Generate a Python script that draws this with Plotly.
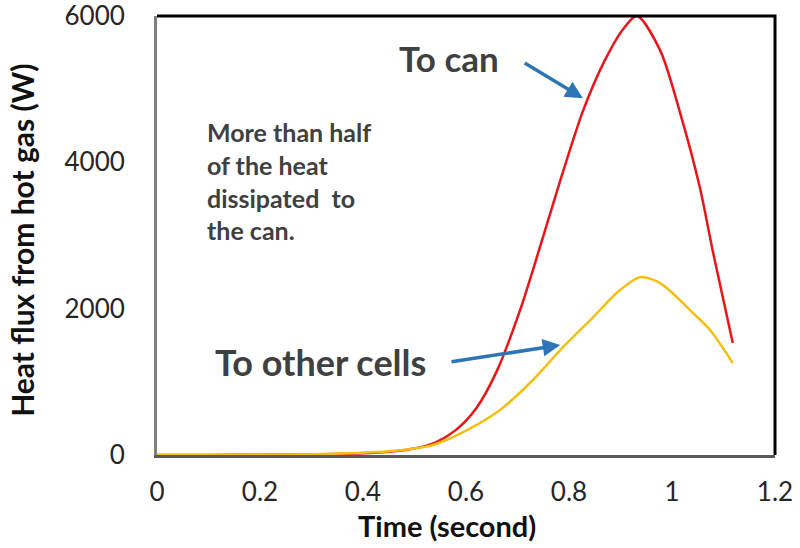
import plotly.graph_objects as go

# Heat flux into the can (W) versus time (s)
t_can = [0, 0.1, 0.2, 0.3, 0.4, 0.45, 0.5, 0.54, 0.58, 0.62, 0.66, 0.705,
         0.744, 0.783, 0.827, 0.87, 0.905, 0.932, 0.977, 1.016, 1.054, 1.08, 1.118]
q_can = [0, 0, 5, 10, 25, 45, 90, 170, 340, 640, 1150, 1980,
         2850, 3750, 4700, 5400, 5820, 6000, 5530, 4670, 3660, 2760, 1530]

# Heat flux into the other cells (W) versus time (s)
t_cells = [0, 0.1, 0.2, 0.3, 0.4, 0.45, 0.5, 0.536, 0.602, 0.666, 0.73, 0.783,
           0.847, 0.899, 0.938, 0.977, 1.041, 1.074, 1.118]
q_cells = [0, 0, 3, 10, 30, 50, 90, 137, 340, 615, 1025, 1434,
           1885, 2254, 2430, 2350, 1940, 1708, 1257]

x_ticks = [0, 0.2, 0.4, 0.6, 0.8, 1, 1.2]
x_tick_text = ["0", "0.2", "0.4", "0.6", "0.8", "1", "1.2"]
y_ticks = [0, 2000, 4000, 6000]

FONT = "Lato"
NOTE = "#404040"
ARROW = "#2E75B6"

fig = go.Figure()
fig.add_trace(go.Scatter(x=t_can, y=q_can, mode="lines", name="To can",
                         line=dict(color="#E8151B", width=2.5, shape="spline", smoothing=0.8)))
fig.add_trace(go.Scatter(x=t_cells, y=q_cells, mode="lines", name="To other cells",
                         line=dict(color="#F2C013", width=2.5, shape="spline", smoothing=0.8)))

# Black frame on the top and right edges of the plot area
fig.add_shape(type="path", xref="paper", yref="paper",
              path="M 0 1 L 1 1 L 1 0", line=dict(color="#000000", width=3))

annotations = [
    dict(x=0.567, y=5424, text="<b>To can</b>", showarrow=False,
         xanchor="center", yanchor="middle",
         font=dict(size=35, color=NOTE, family=FONT)),
    dict(x=0.3165, y=1270, text="<b>To other cells</b>", showarrow=False,
         xanchor="center", yanchor="middle",
         font=dict(size=36, color=NOTE, family=FONT)),
    dict(x=0.827, y=4877, ax=0.711, ay=5369, xref="x", yref="y", axref="x", ayref="y",
         text="", showarrow=True, arrowhead=2, arrowsize=1, arrowwidth=3.5, arrowcolor=ARROW),
    dict(x=0.783, y=1503, ax=0.569, ay=1270, xref="x", yref="y", axref="x", ayref="y",
         text="", showarrow=True, arrowhead=2, arrowsize=1, arrowwidth=3.5, arrowcolor=ARROW),
    # axis titles
    dict(x=0.469, y=-0.16, xref="paper", yref="paper", text="<b>Time (second)</b>",
         xanchor="center", yanchor="middle",
         showarrow=False, font=dict(size=29, color="#111111", family=FONT)),
    dict(x=-0.2185, y=0.49, xref="paper", yref="paper", text="<b>Heat flux from hot gas (W)</b>",
         xanchor="center", yanchor="middle",
         textangle=-90, showarrow=False, font=dict(size=30, color="#111111", family=FONT)),
]
para = ["More than half", "of the heat", "dissipated  to", "the can."]
para_y = [4414, 3963, 3512, 3075]
for line_txt, yy in zip(para, para_y):
    annotations.append(dict(x=0.094, y=yy, xanchor="left", yanchor="middle",
                            text="<b>%s</b>" % line_txt, showarrow=False,
                            font=dict(size=25, color=NOTE, family=FONT)))

fig.update_layout(
    width=800, height=548,
    margin=dict(l=157, r=25, t=16, b=93),
    paper_bgcolor="white", plot_bgcolor="white",
    showlegend=False,
    font=dict(family=FONT, color="#262626"),
    annotations=annotations,
    xaxis=dict(range=[0, 1.2], tickvals=x_ticks, ticktext=x_tick_text, automargin=False,
               showgrid=False, zeroline=False, showline=True, linecolor="#595959",
               linewidth=3, ticks="", ticklabelstandoff=12, ticklabeloverflow="allow",
               tickfont=dict(size=26, family=FONT, color="#262626")),
    yaxis=dict(range=[0, 6000], tickvals=y_ticks, automargin=False,
               showgrid=False, zeroline=False, showline=True, linecolor="#7f7f7f",
               linewidth=3, ticks="", ticklabelstandoff=24, ticklabeloverflow="allow",
               tickfont=dict(size=26, family=FONT, color="#262626")),
)

fig.write_html("out.html")
